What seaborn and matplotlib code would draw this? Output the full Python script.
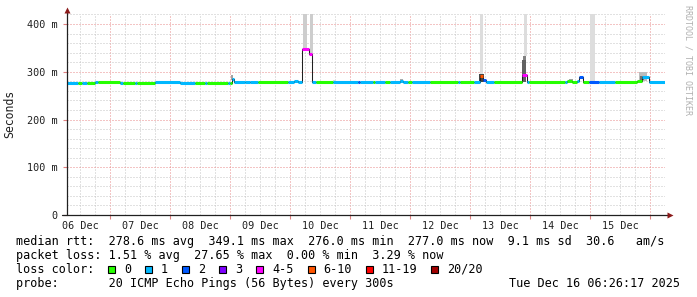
import numpy as np
import pandas as pd
import matplotlib
matplotlib.use("Agg")
import matplotlib.pyplot as plt
import seaborn as sns
from matplotlib.patches import Rectangle

# ---------------- data ----------------
# hours since 2025-12-06 00:00 where each median step starts
seg_start_h = [6.8, 11.2, 12.8, 14.8, 18.0, 19.2, 28.0, 29.2, 34.0, 34.8,
               42.0, 52.0, 58.0, 62.0, 62.8, 71.2, 72.0, 72.8, 73.6, 78.0,
               80.0, 83.2, 95.2, 97.6, 99.2, 100.8, 103.6, 104.8, 106.4, 113.2,
               123.2, 124.0, 129.2, 130.0, 134.0, 136.0, 140.0, 141.2, 143.2, 144.8,
               152.0, 163.2, 164.0, 169.6, 172.0, 173.2, 174.4, 177.6, 188.8, 190.8,
               191.6, 206.0, 206.8, 208.8, 210.8, 211.6, 213.2, 215.6, 219.6, 226.0,
               234.8, 236.8, 239.6]
seg_median_ms = [276, 276, 276, 276, 278, 278, 276, 276, 276, 276,
                 278, 276, 276, 276, 276, 277, 277, 285, 278, 279,
                 278, 278, 278, 281, 278, 348, 338, 278, 278, 278,
                 278, 278, 278, 278, 278, 278, 280, 278, 278, 278,
                 278, 278, 278, 278, 291, 283, 278, 278, 293, 278,
                 278, 278, 281, 278, 281, 289, 278, 278, 278, 278,
                 281, 290, 278]
seg_loss = [1, 0, 1, 0, 1, 0, 1, 0, 1, 0,
            1, 1, 0, 1, 0, 1, 0, 1, 1, 1,
            1, 0, 1, 1, 1, 4, 4, 1, 0, 1,
            2, 1, 0, 1, 0, 1, 1, 1, 0, 1,
            0, 1, 0, 1, 6, 2, 1, 0, 4, 1,
            0, 1, 0, 0, 1, 2, 0, 2, 1, 0,
            0, 1, 1]
series_end_h = 246.0

# smoke (spread of the individual pings)
smoke_start_h = [72.4, 101.2, 104.0, 113.2, 140.0, 171.6, 172.0, 188.8, 189.2, 189.6,
                 207.6, 216.0, 235.6, 236.0]
smoke_end_h = [73.2, 102.8, 105.2, 114.4, 141.2, 173.6, 173.2, 190.4, 190.4, 190.8,
               209.2, 218.0, 238.8, 237.6]
smoke_low_ms = [282, 348, 338, 279, 280, 278, 296, 278, 325, 333,
                279, 280, 281, 283]
smoke_high_ms = [293, 420, 420, 283, 284, 296, 420, 325, 333, 420,
                 285, 420, 300, 292]
smoke_density = [0.4, 0.15, 0.15, 0.05, 0.35, 0.97, 0.05, 0.8, 0.6, 0.05,
                 0.4, 0.05, 0.25, 0.7]

day_labels = ["06 Dec", "07 Dec", "08 Dec", "09 Dec", "10 Dec",
              "11 Dec", "12 Dec", "13 Dec", "14 Dec", "15 Dec"]
y_ticks_ms = [0, 100, 200, 300, 400]

loss_labels = ["0", "1", "2", "3", "4-5", "6-10", "11-19", "20/20"]
loss_upper = [0, 1, 2, 3, 5, 10, 19, 20]
loss_colors = ["#26ff00", "#00b8ff", "#0059ff", "#7e00ff",
               "#ff00ff", "#ff5500", "#ff0000", "#a10000"]

rtt_stats = [278.6, 349.1, 276.0, 277.0]
rtt_sd = 9.1
rtt_ams = 30.6
loss_stats = [1.51, 27.65, 0.00, 3.29]
probe_text = "20 ICMP Echo Pings (56 Bytes) every 300s"
stamp_text = "Tue Dec 16 06:26:17 2025"
watermark = "RRDTOOL / TOBI OETIKER"

# ---------------- figure ----------------
sns.set_theme(style="white")
plt.rcParams["font.family"] = ["DejaVu Sans Mono", "DejaVu Sans"]

W, H = 697, 297
fig = plt.figure(figsize=(W / 100, H / 100), dpi=100)
fig.patch.set_facecolor("white")
L, R, T, B = 67, 665, 14, 215
ax = fig.add_axes([L / W, 1 - B / H, (R - L) / W, (B - T) / H])
ax.set_facecolor("white")

def fx(x):
    return x / W

def fy(y):
    return 1 - y / H

ax.set_xlim(seg_start_h[0], series_end_h)
ax.set_ylim(0, 421)

# grid (dotted, rrdtool style)
minor_col = "#c4c4c4"
major_col = "#e98a8a"
dot = (0, (1, 2))
for h in np.arange(6, series_end_h, 6):
    if h < seg_start_h[0]:
        continue
    is_major = (h % 24 == 0)
    ax.axvline(h, color=major_col if is_major else minor_col, lw=0.72,
               ls=dot, zorder=0)
for v in np.arange(20, 421, 20):
    ax.axhline(v, color=major_col if v % 100 == 0 else minor_col, lw=0.72,
               ls=dot, zorder=0)

# smoke
for s0, s1, lo, hi, d in zip(smoke_start_h, smoke_end_h, smoke_low_ms,
                             smoke_high_ms, smoke_density):
    g = 0.9 - 0.65 * d
    ax.fill_between([s0, s1], [lo, lo], [hi, hi], color=(g, g, g), lw=0,
                    zorder=1)

# median thin black line (steps)
xs = seg_start_h + [series_end_h]
ys = seg_median_ms + [seg_median_ms[-1]]
df = pd.DataFrame({"h": xs, "ms": ys})
sns.lineplot(data=df, x="h", y="ms", drawstyle="steps-post", color="#202020",
             linewidth=0.75, estimator=None, sort=False, ax=ax, zorder=2)

# coloured median by loss
def loss_color(n):
    for up, c in zip(loss_upper, loss_colors):
        if n <= up:
            return c
    return loss_colors[-1]

ends = seg_start_h[1:] + [series_end_h]
for s0, s1, m, n in zip(seg_start_h, ends, seg_median_ms, seg_loss):
    ax.hlines(m, s0, s1, color=loss_color(n), lw=2.2, zorder=3)

# axes styling
for sp in ax.spines.values():
    sp.set_visible(False)
ax.plot([-0.008, 1.006], [0, 0], transform=ax.transAxes, color="#202020",
        lw=0.9, clip_on=False, zorder=5)
ax.plot([0, 0], [0, 1.01], transform=ax.transAxes, color="#202020",
        lw=0.9, clip_on=False, zorder=5)
ax.plot([1.008], [0], marker=">", ms=4, color="#8b1a1a", transform=ax.transAxes,
        clip_on=False, zorder=6, mec="none")
ax.plot([0], [1.02], marker="^", ms=4, color="#8b1a1a", transform=ax.transAxes,
        clip_on=False, zorder=6, mec="none")

ax.set_xlabel("")
ax.set_ylabel("")
midnights = [h for h in np.arange(24, series_end_h, 24)]
noons = [12 + 24 * k for k in range(len(day_labels))]
ax.set_xticks(midnights)
ax.set_xticklabels([])
ax.set_xticks(noons, labels=day_labels, minor=True)
ax.tick_params(axis="x", which="major", length=3, width=0.8, color="#e08080",
               direction="out", bottom=True)
ax.tick_params(axis="x", which="minor", length=0, pad=4, labelsize=7.3,
               labelcolor="#202020", bottom=True)
ax.set_yticks(y_ticks_ms)
ax.set_yticklabels(["0" if v == 0 else f"{v} m" for v in y_ticks_ms])
ax.tick_params(axis="y", length=3, width=0.8, color="#e08080", pad=4,
               labelsize=7.3, labelcolor="#202020", left=True)
for lab in ax.get_xticklabels(minor=True) + ax.get_yticklabels():
    lab.set_family("DejaVu Sans Mono")

# y-axis title
fig.text(fx(10), fy(114), "Seconds", rotation=90, ha="center", va="center",
         fontsize=8.3, color="#202020")

# watermark
fig.text(fx(688), fy(60), watermark, rotation=270, ha="center", va="center",
         fontsize=6.0, color="#b0b0b0")

# legend / statistics
fs = 8.5
cw = 7.1
x0 = 16
line1 = ("median rtt:  " + f"{rtt_stats[0]:.1f} ms avg  {rtt_stats[1]:.1f} ms max  "
         f"{rtt_stats[2]:.1f} ms min  {rtt_stats[3]:.1f} ms now  {rtt_sd:.1f} ms sd  "
         f"{rtt_ams:.1f}   am/s")
line2 = ("packet loss: " + f"{loss_stats[0]:.2f} % avg  {loss_stats[1]:.2f} % max  "
         f"{loss_stats[2]:.2f} % min  {loss_stats[3]:.2f} % now")
fig.text(fx(x0), fy(241.5), line1, ha="left", va="center", fontsize=fs,
         color="black")
fig.text(fx(x0), fy(255.3), line2, ha="left", va="center", fontsize=fs,
         color="black")
fig.text(fx(x0), fy(269.3), "loss color:", ha="left", va="center",
         fontsize=fs, color="black")
bx = x0 + 13 * cw - 0.5
for lab, col in zip(loss_labels, loss_colors):
    fig.patches.append(Rectangle((fx(bx), fy(273.3)), 7 / W, 7.5 / H,
                                 transform=fig.transFigure, facecolor=col,
                                 edgecolor="black", lw=0.8))
    fig.text(fx(bx + 16), fy(269.3), lab, ha="left", va="center",
             fontsize=fs, color="black")
    bx = bx + 16 + len(lab) * cw + 14
fig.text(fx(x0), fy(283.3), "probe:       " + probe_text, ha="left",
         va="center", fontsize=fs, color="black")
fig.text(fx(680), fy(283.3), stamp_text, ha="right", va="center",
         fontsize=fs, color="black")

fig.savefig("out.png", dpi=100, facecolor="white")
